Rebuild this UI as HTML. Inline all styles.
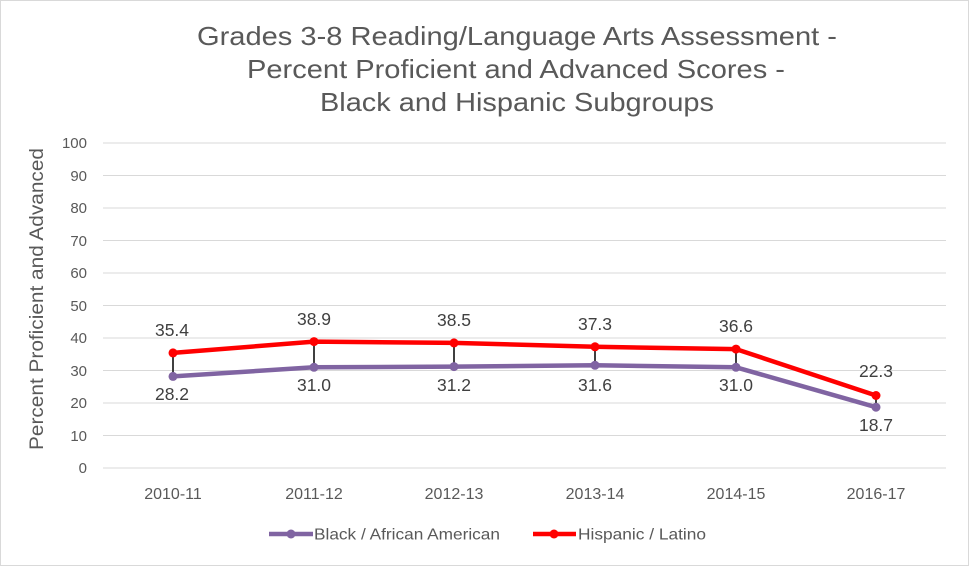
<!DOCTYPE html>
<html><head><style>body{margin:0;background:#fff}svg{display:block}</style></head><body>
<svg width="969" height="566" xmlns="http://www.w3.org/2000/svg" font-family="Liberation Sans, sans-serif">
<rect x="0.5" y="0.5" width="968" height="565" fill="#fff" stroke="#d9d9d9"/>
<g fill="#595959" font-size="26" text-anchor="middle">
<text x="517" y="45" textLength="640" lengthAdjust="spacingAndGlyphs">Grades 3-8 Reading/Language Arts Assessment -</text>
<text x="516" y="78" textLength="538" lengthAdjust="spacingAndGlyphs">Percent Proficient and Advanced Scores -</text>
<text x="517" y="111" textLength="394" lengthAdjust="spacingAndGlyphs">Black and Hispanic Subgroups</text>
</g>
<g stroke="#d9d9d9" stroke-width="1">
<line x1="103" x2="946" y1="143" y2="143"/><line x1="103" x2="946" y1="175.5" y2="175.5"/>
<line x1="103" x2="946" y1="208" y2="208"/><line x1="103" x2="946" y1="240.5" y2="240.5"/>
<line x1="103" x2="946" y1="273" y2="273"/><line x1="103" x2="946" y1="305.5" y2="305.5"/>
<line x1="103" x2="946" y1="338" y2="338"/><line x1="103" x2="946" y1="370.5" y2="370.5"/>
<line x1="103" x2="946" y1="403" y2="403"/><line x1="103" x2="946" y1="435.5" y2="435.5"/>
<line x1="103" x2="946" y1="468" y2="468"/>
</g>
<g fill="#595959" font-size="15" text-anchor="end">
<text x="87" y="148">100</text><text x="87" y="181">90</text><text x="87" y="213">80</text>
<text x="87" y="246">70</text><text x="87" y="278">60</text><text x="87" y="311">50</text>
<text x="87" y="343">40</text><text x="87" y="376">30</text><text x="87" y="408">20</text>
<text x="87" y="441">10</text><text x="87" y="473">0</text>
</g>
<text transform="translate(43,299) rotate(-90)" fill="#595959" font-size="19" text-anchor="middle" textLength="302" lengthAdjust="spacingAndGlyphs">Percent Proficient and Advanced</text>
<g fill="#595959" font-size="16" text-anchor="middle">
<text x="173" y="499">2010-11</text><text x="314" y="499">2011-12</text><text x="454" y="499">2012-13</text>
<text x="595" y="499">2013-14</text><text x="736" y="499">2014-15</text><text x="876" y="499">2016-17</text>
</g>
<g stroke="#404040" stroke-width="2">
<line x1="173" x2="173" y1="353" y2="376"/><line x1="314" x2="314" y1="342" y2="367"/>
<line x1="454" x2="454" y1="343" y2="367"/><line x1="595" x2="595" y1="347" y2="365"/>
<line x1="736" x2="736" y1="349" y2="367"/><line x1="876" x2="876" y1="396" y2="407"/>
</g>
<polyline fill="none" stroke="#8064a2" stroke-width="4.5" stroke-linejoin="round" points="173,376.4 314,367.3 454,366.6 595,365.3 736,367.3 876,407.2"/>
<polyline fill="none" stroke="#ff0000" stroke-width="4.5" stroke-linejoin="round" points="173,352.9 314,341.6 454,342.9 595,346.8 736,349.1 876,395.5"/>
<g fill="#8064a2"><circle cx="173" cy="376.4" r="4.5"/><circle cx="314" cy="367.3" r="4.5"/><circle cx="454" cy="366.6" r="4.5"/><circle cx="595" cy="365.3" r="4.5"/><circle cx="736" cy="367.3" r="4.5"/><circle cx="876" cy="407.2" r="4.5"/></g>
<g fill="#ff0000"><circle cx="173" cy="352.9" r="4.5"/><circle cx="314" cy="341.6" r="4.5"/><circle cx="454" cy="342.9" r="4.5"/><circle cx="595" cy="346.8" r="4.5"/><circle cx="736" cy="349.1" r="4.5"/><circle cx="876" cy="395.5" r="4.5"/></g>
<g fill="#404040" font-size="17.5" text-anchor="middle">
<text x="172" y="336">35.4</text><text x="314" y="325">38.9</text><text x="454" y="326">38.5</text>
<text x="595" y="330">37.3</text><text x="736" y="332">36.6</text><text x="876" y="377">22.3</text>
<text x="172" y="400">28.2</text><text x="314" y="391">31.0</text><text x="454" y="391">31.2</text>
<text x="595" y="391">31.6</text><text x="736" y="391">31.0</text><text x="876" y="431">18.7</text>
</g>
<line x1="269" x2="313" y1="534" y2="534" stroke="#8064a2" stroke-width="4.5"/><circle cx="291" cy="534" r="4.5" fill="#8064a2"/>
<text x="314" y="539.5" fill="#595959" font-size="16" textLength="186" lengthAdjust="spacingAndGlyphs">Black / African American</text>
<line x1="533" x2="576" y1="534" y2="534" stroke="#ff0000" stroke-width="4.5"/><circle cx="554" cy="534" r="4.5" fill="#ff0000"/>
<text x="578" y="539.5" fill="#595959" font-size="16" textLength="128" lengthAdjust="spacingAndGlyphs">Hispanic / Latino</text>
</svg>
</body></html>
